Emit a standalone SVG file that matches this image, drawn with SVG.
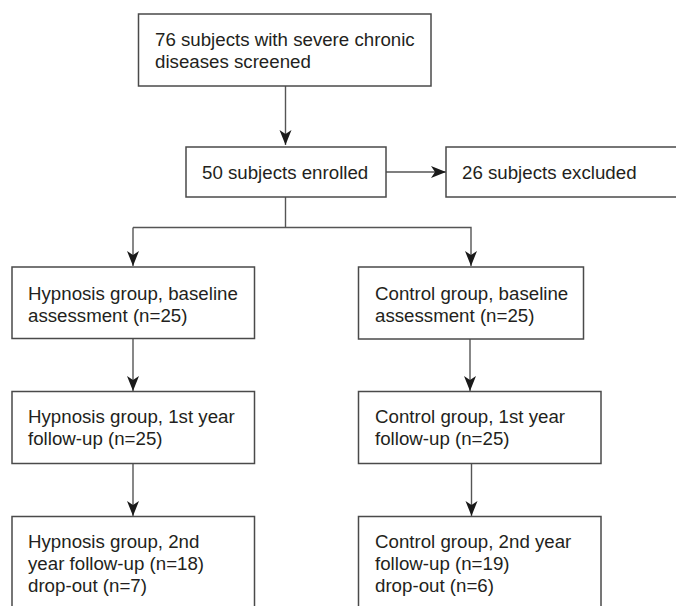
<svg xmlns="http://www.w3.org/2000/svg" width="676" height="606" viewBox="0 0 676 606">
<defs>
<style>
.box{fill:#fff;stroke:#4a4a4a;stroke-width:1.5}
.t{font-family:"Liberation Sans",Arial,sans-serif;font-size:18.7px;fill:#231f20}
.ln{fill:none;stroke:#555;stroke-width:1.4}
</style>
<marker id="ah" markerUnits="userSpaceOnUse" markerWidth="16" markerHeight="13" refX="15" refY="6" orient="auto" viewBox="0 0 16 12">
<path d="M0,0 L15,6 L0,12 L4,6 Z" fill="#1a1a1a"/>
</marker>
</defs>
<rect width="676" height="606" fill="#fff"/>
<g id="connectors">
<line class="ln" x1="285.5" y1="86" x2="285.5" y2="145" marker-end="url(#ah)"/>
<line class="ln" x1="386" y1="172" x2="446" y2="172" marker-end="url(#ah)"/>
<polyline class="ln" points="285.5,197 285.5,227.5"/>
<polyline class="ln" points="133,227.5 471,227.5 471,266" marker-end="url(#ah)"/>
<line class="ln" x1="133" y1="227.5" x2="133" y2="266" marker-end="url(#ah)"/>
<line class="ln" x1="133" y1="339" x2="133" y2="391" marker-end="url(#ah)"/>
<line class="ln" x1="133" y1="464" x2="133" y2="516" marker-end="url(#ah)"/>
<line class="ln" x1="470" y1="339" x2="470" y2="391" marker-end="url(#ah)"/>
<line class="ln" x1="471.5" y1="464" x2="471.5" y2="516" marker-end="url(#ah)"/>
</g>
<g id="screened">
<rect class="box" x="138.5" y="14" width="292.5" height="72"/>
<text class="t" x="155" y="46">76 subjects with severe chronic</text>
<text class="t" x="155" y="68">diseases screened</text>
</g>
<g id="enrolled">
<rect class="box" x="186" y="147" width="200" height="50"/>
<text class="t" x="202" y="179">50 subjects enrolled</text>
</g>
<g id="excluded">
<rect class="box" x="446" y="147" width="240" height="50"/>
<text class="t" x="462" y="179">26 subjects excluded</text>
</g>
<g id="hyp-baseline">
<rect class="box" x="12" y="267" width="242.5" height="71.5"/>
<text class="t" x="28" y="300">Hypnosis group, baseline</text>
<text class="t" x="28" y="322">assessment (n=25)</text>
</g>
<g id="ctl-baseline">
<rect class="box" x="358.5" y="267" width="225" height="72"/>
<text class="t" x="375" y="300">Control group, baseline</text>
<text class="t" x="375" y="322">assessment (n=25)</text>
</g>
<g id="hyp-1st">
<rect class="box" x="12" y="391.5" width="242.5" height="72"/>
<text class="t" x="28" y="423">Hypnosis group, 1st year</text>
<text class="t" x="28" y="445">follow-up (n=25)</text>
</g>
<g id="ctl-1st">
<rect class="box" x="358.5" y="391.5" width="242.5" height="72"/>
<text class="t" x="375" y="423">Control group, 1st year</text>
<text class="t" x="375" y="445">follow-up (n=25)</text>
</g>
<g id="hyp-2nd">
<rect class="box" x="12" y="516.5" width="242.5" height="110"/>
<text class="t" x="28" y="548">Hypnosis group, 2nd</text>
<text class="t" x="28" y="570">year follow-up (n=18)</text>
<text class="t" x="28" y="592">drop-out (n=7)</text>
</g>
<g id="ctl-2nd">
<rect class="box" x="358.5" y="516.5" width="242.5" height="110"/>
<text class="t" x="375" y="548">Control group, 2nd year</text>
<text class="t" x="375" y="570">follow-up (n=19)</text>
<text class="t" x="375" y="592">drop-out (n=6)</text>
</g>
</svg>
